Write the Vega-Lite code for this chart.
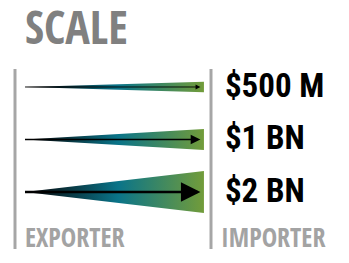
{
  "$schema": "https://vega.github.io/schema/vega-lite/v6.json",
  "width": 349,
  "height": 263,
  "autosize": {"type": "fit", "contains": "padding"},
  "padding": 0,
  "background": "white",
  "config": {"view": {"stroke": null}},
  "datasets": {
    "amounts": [
      {"label": "$500 M", "value": 0.5, "row": 1},
      {"label": "$1 BN", "value": 1, "row": 2},
      {"label": "$2 BN", "value": 2, "row": 3}
    ],
    "wedges": [
      {"label": "$500 M", "pos": 0.051, "lo": 1, "hi": 1},
      {"label": "$500 M", "pos": 0.964, "lo": 0.9, "hi": 1.1},
      {"label": "$1 BN", "pos": 0.051, "lo": 2, "hi": 2},
      {"label": "$1 BN", "pos": 0.964, "lo": 1.8, "hi": 2.2},
      {"label": "$2 BN", "pos": 0.051, "lo": 3, "hi": 3},
      {"label": "$2 BN", "pos": 0.964, "lo": 2.6, "hi": 3.4}
    ],
    "sides": [
      {"side": "EXPORTER", "x": 0},
      {"side": "IMPORTER", "x": 1}
    ],
    "heading": [{"text": "SCALE"}]
  },
  "layer": [
    {
      "data": {"name": "wedges"},
      "mark": {
        "type": "area",
        "orient": "vertical",
        "color": {
          "gradient": "linear",
          "x1": 0, "y1": 0, "x2": 1, "y2": 0,
          "stops": [
            {"offset": 0, "color": "#000000"},
            {"offset": 0.12, "color": "#081a20"},
            {"offset": 0.52, "color": "#0a7489"},
            {"offset": 1, "color": "#729c3a"}
          ]
        }
      },
      "encoding": {
        "x": {"field": "pos", "type": "quantitative", "scale": {"domain": [-0.07653, 1.70408], "nice": false, "zero": false}, "axis": null},
        "y": {"field": "lo", "type": "quantitative", "stack": null, "scale": {"domain": [-0.6571, 4.3524], "reverse": true, "nice": false, "zero": false}, "axis": null},
        "y2": {"field": "hi"},
        "detail": {"field": "label", "type": "nominal"}
      }
    },
    {
      "data": {"name": "amounts"},
      "mark": {"type": "rule", "color": "black"},
      "encoding": {
        "x": {"datum": 0.051, "type": "quantitative", "scale": {"domain": [-0.07653, 1.70408], "nice": false, "zero": false}, "axis": null},
        "x2": {"datum": 0.93},
        "y": {"field": "row", "type": "quantitative", "scale": {"domain": [-0.6571, 4.3524], "reverse": true, "nice": false, "zero": false}, "axis": null},
        "strokeWidth": {"field": "value", "type": "quantitative", "scale": {"domain": [0.5, 2], "range": [0.9, 2.6]}, "legend": null}
      }
    },
    {
      "data": {"name": "amounts"},
      "mark": {"type": "point", "shape": "M-2,-1L0,0L-2,1Z", "filled": true, "color": "black", "opacity": 1},
      "encoding": {
        "x": {"datum": 0.946, "type": "quantitative", "scale": {"domain": [-0.07653, 1.70408], "nice": false, "zero": false}, "axis": null},
        "y": {"field": "row", "type": "quantitative", "scale": {"domain": [-0.6571, 4.3524], "reverse": true, "nice": false, "zero": false}, "axis": null},
        "size": {"field": "value", "type": "quantitative", "scale": {"type": "pow", "exponent": 2, "domain": [0, 2], "range": [0, 380]}, "legend": null}
      }
    },
    {
      "data": {"name": "amounts"},
      "mark": {"type": "text", "align": "left", "baseline": "middle", "font": "Roboto Condensed, DejaVu Sans Condensed, sans-serif", "fontWeight": "bold", "fontSize": 33, "color": "black"},
      "encoding": {
        "x": {"datum": 1.071, "type": "quantitative", "scale": {"domain": [-0.07653, 1.70408], "nice": false, "zero": false}, "axis": null},
        "y": {"field": "row", "type": "quantitative", "scale": {"domain": [-0.6571, 4.3524], "reverse": true, "nice": false, "zero": false}, "axis": null},
        "text": {"field": "label"}
      }
    },
    {
      "data": {"name": "sides"},
      "mark": {"type": "rule", "color": "#a6a6a6", "strokeWidth": 3},
      "encoding": {
        "x": {"field": "x", "type": "quantitative", "scale": {"domain": [-0.07653, 1.70408], "nice": false, "zero": false}, "axis": null},
        "y": {"datum": 0.657, "type": "quantitative", "scale": {"domain": [-0.6571, 4.3524], "reverse": true, "nice": false, "zero": false}, "axis": null},
        "y2": {"datum": 4.086}
      }
    },
    {
      "data": {"name": "sides"},
      "mark": {"type": "text", "align": "left", "baseline": "alphabetic", "dx": 10, "font": "Open Sans Condensed, DejaVu Sans Condensed, sans-serif", "fontWeight": "bold", "fontSize": 26, "color": "#a3a3a3"},
      "encoding": {
        "x": {"field": "x", "type": "quantitative", "scale": {"domain": [-0.07653, 1.70408], "nice": false, "zero": false}, "axis": null},
        "y": {"datum": 4.048, "type": "quantitative", "scale": {"domain": [-0.6571, 4.3524], "reverse": true, "nice": false, "zero": false}, "axis": null},
        "text": {"field": "side"}
      }
    },
    {
      "data": {"name": "heading"},
      "mark": {"type": "text", "align": "left", "baseline": "alphabetic", "font": "Open Sans Condensed, DejaVu Sans Condensed, sans-serif", "fontWeight": "bold", "fontSize": 46, "color": "#808080"},
      "encoding": {
        "x": {"datum": 0.051, "type": "quantitative", "scale": {"domain": [-0.07653, 1.70408], "nice": false, "zero": false}, "axis": null},
        "y": {"datum": 0.181, "type": "quantitative", "scale": {"domain": [-0.6571, 4.3524], "reverse": true, "nice": false, "zero": false}, "axis": null},
        "text": {"field": "text"}
      }
    }
  ]
}
